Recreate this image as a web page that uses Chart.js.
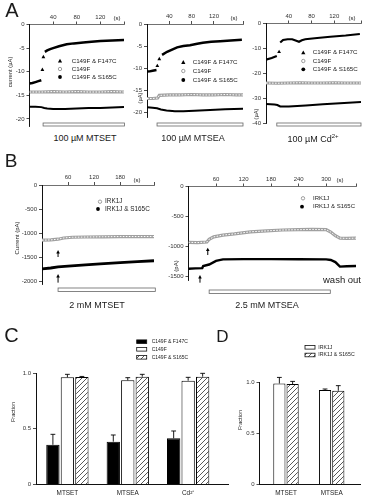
<!DOCTYPE html>
<html><head><meta charset="utf-8">
<script src="https://cdn.jsdelivr.net/npm/chart.js@4.4.1/dist/chart.umd.min.js"></script>
<style>
html,body{margin:0;padding:0;background:#fff}
body{position:relative;width:366px;height:499px;overflow:hidden;font-family:'Liberation Sans',Arial,Helvetica,sans-serif;color:#1a1a1a}
canvas{position:absolute}
.c{position:absolute;transform:translate(-50%,-50%);white-space:nowrap;line-height:1}
sup{font-size:6px;vertical-align:4px}
</style></head><body>
<canvas id="a1" width="130" height="132" style="left:0;top:0"></canvas>
<canvas id="a2" width="126" height="132" style="left:120px;top:0"></canvas>
<canvas id="a3" width="126" height="132" style="left:240px;top:0"></canvas>
<canvas id="b1" width="165" height="125" style="left:0;top:170px"></canvas>
<canvas id="b2" width="201" height="125" style="left:165px;top:170px"></canvas>
<canvas id="c1" width="235" height="174" style="left:0;top:325px"></canvas>
<canvas id="d1" width="131" height="174" style="left:235px;top:325px"></canvas>

<div class="c" style="left:12px;top:10px;font-size:20px">A</div>
<div class="c" style="left:11px;top:160px;font-size:19px">B</div>
<div class="c" style="left:11.5px;top:334.5px;font-size:20px">C</div>
<div class="c" style="left:222.5px;top:336px;font-size:17px">D</div>
<div class="c" style="left:85px;top:137.5px;font-size:9px">100 µM MTSET</div>
<div class="c" style="left:193px;top:137.5px;font-size:9px">100 µM MTSEA</div>
<div class="c" style="left:313px;top:137.5px;font-size:9px">100 µM Cd<sup>2+</sup></div>
<div class="c" style="left:97px;top:305px;font-size:9px">2 mM MTSET</div>
<div class="c" style="left:267px;top:305px;font-size:9px">2.5 mM MTSEA</div>
<div class="c" style="left:342px;top:280px;font-size:9.5px">wash out</div>

<script>
// ===================== DATA =====================
// Panel A1 – 100 µM MTSET (time s, current µA)
const a1TriT  = [0,5,10,15,20,21,21.8,22.6,23.5,24.5,26,30,35,40,50,63,75,91,105,120,140,160];
const a1TriV  = [-12.5,-12.4,-12.2,-12.0,-11.8,null,-9.6,null,-6.9,null,-5.8,-5.5,-5.2,-5.0,-4.6,-4.2,-4.0,-3.8,-3.65,-3.5,-3.4,-3.3];
const a1OpenT = [0,20,40,60,80,100,120,140,160];
const a1OpenV = [-14.3,-14.3,-14.2,-14.3,-14.2,-14.3,-14.3,-14.2,-14.3];
const a1SolT  = [0,10,20,25,30,40,60,80,100,120,140,160];
const a1SolV  = [-17.4,-17.4,-17.5,-17.7,-17.8,-17.9,-17.9,-17.8,-17.7,-17.7,-17.6,-17.5];
// Panel A2 – 100 µM MTSEA
const a2TriT  = [0,5,10,17,17.8,18.5,20,22,24,27,36,45,54,65,77,90,100,115,131,150,170];
const a2TriV  = [-10.8,-10.75,-10.6,-10.45,null,-9.5,null,-7.95,null,-7.0,-6.3,-5.8,-5.3,-5.0,-4.8,-4.5,-4.25,-4.05,-3.9,-3.75,-3.6];
const a2OpenT = [0,10,19,22,40,60,80,100,120,140,160,172];
const a2OpenV = [-16.9,-16.9,-16.8,-16.2,-16.1,-16.1,-16.0,-16.1,-16.1,-16.0,-16.1,-16.1];
const a2SolT  = [0,10,18,25,35,50,65,85,113,140,172];
const a2SolV  = [-18.9,-19.0,-19.1,-19.4,-19.6,-19.8,-19.8,-19.7,-19.5,-19.35,-19.2];
// Panel A3 – 100 µM Cd2+
const a3TriT  = [0,10,19,21,23,24,25,30,38,46,52,58,63,69,90,113,140,165];
const a3TriV  = [-14.5,-13.8,-13.0,null,-11.4,null,-7.6,-6.6,-6.3,-6.3,-6.8,-7.3,-6.7,-6.3,-5.8,-5.3,-4.8,-4.2];
const a3OpenT = [0,20,40,60,80,100,120,140,167];
const a3OpenV = [-23.8,-23.9,-23.8,-23.7,-23.8,-23.8,-23.7,-23.8,-23.8];
const a3SolT  = [0,15,20,25,40,70,100,130,167];
const a3SolV  = [-32.2,-32.4,-32.6,-33.2,-33.2,-32.8,-32.3,-31.9,-31.4];
const aLegend = ['C149F & F147C','C149F','C149F & S165C'];

// Panel B1 – 2 mM MTSET (time s, current pA)
const b1OpenT = [0,20,37,50,70,100,140,180,220,258];
const b1OpenV = [-1140,-1135,-1120,-1095,-1080,-1075,-1070,-1065,-1065,-1065];
const b1SolT  = [0,20,37,60,100,134,180,220,258];
const b1SolV  = [-1735,-1715,-1690,-1675,-1650,-1632,-1605,-1585,-1565];
// Panel B2 – 2.5 mM MTSEA
const b2OpenT = [0,20,40,45,55,75,100,135,170,205,240,270,300,310,320,330,345,365];
const b2OpenV = [-930,-935,-925,-880,-840,-810,-790,-755,-740,-725,-720,-715,-720,-760,-820,-860,-865,-860];
const b2SolT  = [0,15,30,32,45,60,75,120,180,240,300,310,320,330,345,365];
const b2SolV  = [-1370,-1365,-1360,-1325,-1300,-1240,-1215,-1210,-1210,-1212,-1215,-1225,-1260,-1335,-1330,-1325];
const bLegend = ['IRK1J','IRK1J & S165C'];

// Panel C – fraction
const cCats      = ['MTSET','MTSEA','Cd²⁺'];
const cF147C     = [0.355,0.383,0.413];
const cF147CErr  = [0.094,0.060,0.066];
const cC149F     = [0.961,0.934,0.931];
const cC149FErr  = [0.027,0.024,0.030];
const cS165C     = [0.963,0.967,0.967];
const cS165CErr  = [0.006,0.021,0.030];
// Panel D – fraction
const dCats      = ['MTSET','MTSEA'];
const dIRK1J     = [0.99,0.926];
const dIRK1JErr  = [0.06,0.01];
const dS165C     = [0.985,0.919];
const dS165CErr  = [0.026,0.05];

// tick values
const aXTicks  = [40,80,120];
const a12YTicks= [0,-5,-10,-15,-20];
const a3YTicks = [0,-10,-20,-30,-40];
const b1XTicks = [60,120,180];
const b2XTicks = [60,120,180,240,300];
const b1YTicks = [0,-500,-1000,-1500,-2000];
const b2YTicks = [0,-500,-1000,-1500];
const fracTicks= [0,0.5,1];

// ===================== RENDER =====================
const FONT = "'Liberation Sans', Arial, Helvetica, sans-serif";
const TICK = 6;
Chart.defaults.font.family = FONT;
Chart.defaults.color = '#222';

const pts = (t,v)=>t.map((x,i)=>({x, y:v[i]}));
const isoRadius = c => {
  const d=c.dataset.data, i=c.dataIndex, p=d[i-1], n=d[i+1];
  return (p && p.y===null && n && n.y===null) ? 2.2 : 0;
};
const triSet = (t,v,w)=>({data:pts(t,v),borderColor:'#000',borderWidth:w,pointStyle:'triangle',
  pointBackgroundColor:'#000',pointBorderWidth:0,pointRadius:isoRadius,spanGaps:false,order:0});
const openSets = (t,v)=>[
  {data:pts(t,v),borderColor:'#a0a0a0',borderWidth:3.2,pointRadius:0,order:3},
  {data:pts(t,v),borderColor:'#ffffff',borderWidth:1,borderDash:[1.6,1.4],pointRadius:0,order:2}];
const solidSet = (t,v,w)=>({data:pts(t,v),borderColor:'#000',borderWidth:w,pointRadius:0,order:1});

function makeHatch(ctx){
  const c=document.createElement('canvas'); c.width=c.height=5;
  const g=c.getContext('2d'); g.fillStyle='#fff'; g.fillRect(0,0,5,5);
  g.strokeStyle='#222'; g.lineWidth=0.75; g.beginPath(); g.moveTo(-1,6); g.lineTo(6,-1); g.stroke();
  return ctx.createPattern(c,'repeat');
}

const DECO = {};

function drawMarker(ctx,k,x,y){
  ctx.save();
  if(k==='tri'){ctx.fillStyle='#000';ctx.beginPath();ctx.moveTo(x,y-2.3);ctx.lineTo(x-2.1,y+1.6);ctx.lineTo(x+2.1,y+1.6);ctx.closePath();ctx.fill();}
  else if(k==='open'){ctx.strokeStyle='#888';ctx.lineWidth=0.8;ctx.fillStyle='#fff';ctx.beginPath();ctx.arc(x,y,1.7,0,Math.PI*2);ctx.fill();ctx.stroke();}
  else if(k==='dot'){ctx.fillStyle='#000';ctx.beginPath();ctx.arc(x,y,1.9,0,Math.PI*2);ctx.fill();}
  else {
    const w=10,h=3.6; ctx.lineWidth=0.8; ctx.strokeStyle='#111';
    ctx.fillStyle = k==='bBlack' ? '#000' : (k==='bHatch' ? makeHatch(ctx) : '#fff');
    ctx.fillRect(x,y-h/2,w,h); ctx.strokeRect(x,y-h/2,w,h);
  }
  ctx.restore();
}

const decoPlugin = {
  id:'deco',
  afterDraw(chart){
    const o = DECO[chart.canvas.id]; if(!o) return;
    const ctx=chart.ctx, xs=chart.scales.x, ys=chart.scales.y;
    ctx.save();
    (o.stims||[]).forEach(s=>{
      const x1=xs.getPixelForValue(s.from), x2=xs.getPixelForValue(s.to);
      ctx.fillStyle='#fff'; ctx.fillRect(x1,s.y,x2-x1,s.h);
      ctx.strokeStyle='#666'; ctx.lineWidth=0.8; ctx.strokeRect(x1,s.y,x2-x1,s.h);
    });
    (o.arrows||[]).forEach(a=>{
      const x=xs.getPixelForValue(a.t), y1=ys.getPixelForValue(a.tip), y2=ys.getPixelForValue(a.tail);
      ctx.strokeStyle='#000'; ctx.lineWidth=1; ctx.beginPath(); ctx.moveTo(x,y1+2); ctx.lineTo(x,y2); ctx.stroke();
      ctx.fillStyle='#000'; ctx.beginPath(); ctx.moveTo(x,y1); ctx.lineTo(x-1.8,y1+3.4); ctx.lineTo(x+1.8,y1+3.4); ctx.closePath(); ctx.fill();
    });
    (o.errors||[]).forEach((errs,di)=>{
      const meta=chart.getDatasetMeta(di), vals=chart.data.datasets[di].data;
      meta.data.forEach((el,i)=>{
        const yTop=el.y, yE=ys.getPixelForValue(vals[i].y+errs[i]);
        ctx.strokeStyle='#000'; ctx.lineWidth=0.9;
        ctx.beginPath(); ctx.moveTo(el.x,yTop); ctx.lineTo(el.x,yE);
        ctx.moveTo(el.x-2.4,yE); ctx.lineTo(el.x+2.4,yE); ctx.stroke();
      });
    });
    (o.legend||[]).forEach(L=>{
      drawMarker(ctx,L.k,L.x,L.y);
      ctx.fillStyle='#222'; ctx.font=`${o.legendSize}px ${FONT}`; ctx.textAlign='left'; ctx.textBaseline='middle';
      ctx.fillText(L.s,o.legendTx,L.y);
    });
    (o.texts||[]).forEach(t=>{
      ctx.save(); ctx.fillStyle='#222'; ctx.font=`${t.size}px ${FONT}`; ctx.textAlign='center'; ctx.textBaseline='middle';
      ctx.translate(t.x,t.y); if(t.rot) ctx.rotate(-Math.PI/2); ctx.fillText(t.s,0,0); ctx.restore();
    });
    ctx.restore();
  }
};
Chart.register(decoPlugin);

function traceChart(id, spec){
  const el=document.getElementById(id), W=el.width, H=el.height, A=spec.area;
  return new Chart(el,{
    type:'line',
    data:{datasets:spec.datasets},
    options:{
      responsive:false, animation:false, devicePixelRatio:1, events:[],
      layout:{padding:{left:0,top:0,right:W-A.r,bottom:H-A.b}},
      plugins:{legend:{display:false},tooltip:{enabled:false}},
      elements:{line:{tension:0}},
      scales:{
        x:{type:'linear',position:'top',min:0,max:spec.xMax,
          afterFit:s=>{s.height=A.t;},
          afterBuildTicks:s=>{s.ticks=spec.xTicks.concat([spec.xMax]).map(v=>({value:v}));},
          ticks:{autoSkip:false,maxRotation:0,padding:1,font:{size:TICK},color:'#333',
                 callback:v=>spec.xTicks.includes(v)?String(v):''},
          grid:{drawOnChartArea:false,drawTicks:true,tickLength:3,color:'#222',lineWidth:0.8},
          border:{display:true,color:'#333',width:0.7}},
        y:{type:'linear',min:spec.yMin,max:0,
          afterFit:s=>{s.width=A.l;},
          afterBuildTicks:s=>{s.ticks=spec.yTicks.map(v=>({value:v}));},
          ticks:{autoSkip:false,padding:2,font:{size:TICK},color:'#333',callback:v=>String(v)},
          grid:{drawOnChartArea:false,drawTicks:true,tickLength:3,color:'#222',lineWidth:0.8},
          border:{display:true,color:'#111',width:1}}
      }
    }
  });
}

function barChart(id, spec){
  const el=document.getElementById(id), W=el.width, H=el.height, A=spec.area;
  const hatch = makeHatch(el.getContext('2d'));
  const ds = spec.series.map(s=>({
    data:s.v.map((y,i)=>({x:i,y})),
    backgroundColor: s.fill==='hatch'?hatch:s.fill, borderColor:'#000', borderWidth:1,
    categoryPercentage:spec.cp, barPercentage:spec.bp
  }));
  return new Chart(el,{
    type:'bar',
    data:{datasets:ds},
    options:{
      responsive:false, animation:false, devicePixelRatio:1, events:[],
      layout:{padding:{left:0,top:A.t,right:W-A.r,bottom:0}},
      plugins:{legend:{display:false},tooltip:{enabled:false}},
      scales:{
        x:{type:'linear',min:spec.xMin,max:spec.xMax,offset:false,
          afterFit:s=>{s.height=H-A.b;},
          afterBuildTicks:s=>{s.ticks=spec.cats.map((c,i)=>({value:i}));},
          ticks:{autoSkip:false,maxRotation:0,padding:5,font:{size:6.4},color:'#222',callback:v=>spec.cats[v]},
          grid:{display:true,drawOnChartArea:false,drawTicks:false,offset:false},
          border:{display:true,color:'#111',width:1}},
        y:{type:'linear',min:0,max:1,
          afterFit:s=>{s.width=A.l;},
          afterBuildTicks:s=>{s.ticks=fracTicks.map(v=>({value:v}));},
          ticks:{autoSkip:false,padding:2,font:{size:TICK},color:'#333',callback:v=>v===0?'0':v.toFixed(1)},
          grid:{drawOnChartArea:false,drawTicks:true,tickLength:3,color:'#222',lineWidth:0.8},
          border:{display:true,color:'#111',width:1}}
      }
    }
  });
}

// ---- A panels ----
DECO.a1 = {
  legend:[{k:'tri',x:60,y:61,s:aLegend[0]},{k:'open',x:60,y:69,s:aLegend[1]},{k:'dot',x:60,y:77,s:aLegend[2]}],
  legendTx:71.7, legendSize:6.2,
  stims:[{from:23,to:161,y:123,h:3}],
  texts:[{s:'current (µA)',x:10,y:72,size:5.8,rot:true},{s:'(s)',x:117,y:18,size:TICK}]
};
traceChart('a1',{area:{l:29.5,t:24.5,r:124,b:126},xMax:160,yMin:-21.5,xTicks:aXTicks,yTicks:a12YTicks,
  datasets:[triSet(a1TriT,a1TriV,2.5),...openSets(a1OpenT,a1OpenV),solidSet(a1SolT,a1SolV,2)]});

DECO.a2 = {
  legend:[{k:'tri',x:63.3,y:62.3,s:aLegend[0]},{k:'open',x:63.3,y:71,s:aLegend[1]},{k:'dot',x:63.3,y:80,s:aLegend[2]}],
  legendTx:72.7, legendSize:6.2,
  stims:[{from:18,to:172,y:123,h:3}],
  texts:[{s:'(µA)',x:20.5,y:98,size:5.8,rot:true},{s:'(s)',x:114,y:18,size:TICK}]
};
traceChart('a2',{area:{l:27,t:24,r:123,b:117},xMax:172,yMin:-21.1,xTicks:aXTicks,yTicks:a12YTicks,
  datasets:[triSet(a2TriT,a2TriV,2.5),...openSets(a2OpenT,a2OpenV),solidSet(a2SolT,a2SolV,2)]});

DECO.a3 = {
  legend:[{k:'tri',x:63.3,y:52.7,s:aLegend[0]},{k:'open',x:63.3,y:61,s:aLegend[1]},{k:'dot',x:63.3,y:69.3,s:aLegend[2]}],
  legendTx:72.7, legendSize:6.2,
  stims:[{from:19,to:167,y:123,h:3}],
  texts:[{s:'(µA)',x:16,y:114,size:5.8,rot:true},{s:'(s)',x:112,y:18,size:TICK}]
};
traceChart('a3',{area:{l:26,t:23.5,r:121,b:123.5},xMax:167,yMin:-40,xTicks:aXTicks,yTicks:a3YTicks,
  datasets:[triSet(a3TriT,a3TriV,2.2),...openSets(a3OpenT,a3OpenV),solidSet(a3SolT,a3SolV,2)]});

// ---- B panels ----
DECO.b1 = {
  legend:[{k:'open',x:100,y:31.7,s:bLegend[0]},{k:'dot',x:98,y:39,s:bLegend[1]}],
  legendTx:105, legendSize:6.4,
  stims:[{from:37,to:261,y:118,h:3.5}],
  arrows:[{t:37,tip:-1343,tail:-1488},{t:37,tip:-1839,tail:-2018}],
  texts:[{s:'Current (pA)',x:17,y:68,size:6,rot:true},{s:'(s)',x:137,y:10,size:TICK}]
};
traceChart('b1',{area:{l:42,t:15,r:154,b:114.2},xMax:258,yMin:-2050,xTicks:b1XTicks,yTicks:b1YTicks,
  datasets:[...openSets(b1OpenT,b1OpenV),solidSet(b1SolT,b1SolV,2.8)]});

DECO.b2 = {
  legend:[{k:'open',x:138,y:28.3,s:bLegend[0]},{k:'dot',x:137,y:36.7,s:bLegend[1]}],
  legendTx:148, legendSize:6,
  stims:[{from:45,to:309,y:120,h:3.5}],
  arrows:[{t:42,tip:-1020,tail:-1142},{t:25,tip:-1475,tail:-1603}],
  texts:[{s:'(pA)',x:11,y:96,size:6,rot:true},{s:'(s)',x:175,y:10,size:TICK}]
};
traceChart('b2',{area:{l:23.5,t:16.5,r:191,b:110.1},xMax:365,yMin:-1560,xTicks:b2XTicks,yTicks:b2YTicks,
  datasets:[...openSets(b2OpenT,b2OpenV),solidSet(b2SolT,b2SolV,2.4)]});

// ---- C panel ----
DECO.c1 = {
  errors:[cF147CErr,cC149FErr,cS165CErr],
  legend:[{k:'bBlack',x:136.7,y:16.7,s:aLegend[0]},{k:'bWhite',x:136.7,y:24.3,s:aLegend[1]},{k:'bHatch',x:136.7,y:32.3,s:aLegend[2]}],
  legendTx:151.7, legendSize:5,
  texts:[{s:'Fraction',x:13,y:87,size:5.6,rot:true}]
};
barChart('c1',{area:{l:36,t:48,r:228,b:159.3},xMin:-0.52,xMax:2.66,cats:cCats,cp:0.72,bp:0.92,
  series:[{v:cF147C,fill:'#000'},{v:cC149F,fill:'#fff'},{v:cS165C,fill:'hatch'}]});

// ---- D panel ----
DECO.d1 = {
  errors:[dIRK1JErr,dS165CErr],
  legend:[{k:'bWhite',x:70,y:22.3,s:bLegend[0]},{k:'bHatch',x:70,y:30,s:bLegend[1]}],
  legendTx:83.3, legendSize:5.2,
  texts:[{s:'Fraction',x:5,y:95,size:5.6,rot:true}]
};
barChart('d1',{area:{l:24.5,t:57.5,r:125,b:159.3},xMin:-0.58,xMax:1.62,cats:dCats,cp:0.58,bp:0.92,
  series:[{v:dIRK1J,fill:'#fff'},{v:dS165C,fill:'hatch'}]});
</script>
</body></html>
